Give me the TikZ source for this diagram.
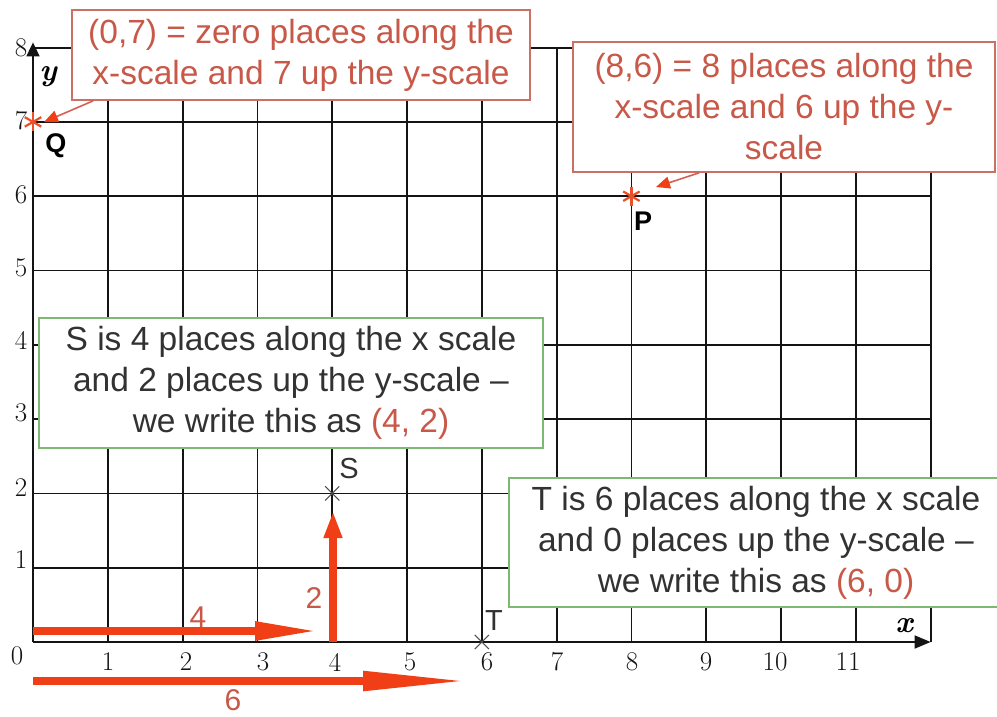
\documentclass[tikz,border=0pt]{standalone}
\usepackage{fontspec}
\newfontfamily\sansf{Liberation Sans}
\usetikzlibrary{arrows.meta}
\definecolor{arrowred}{RGB}{240,62,22}
\definecolor{labred}{RGB}{200,88,72}
\definecolor{boxred}{RGB}{205,112,100}
\definecolor{boxgreen}{RGB}{125,185,115}
\definecolor{boxtext}{RGB}{50,50,50}
\definecolor{astred}{RGB}{235,80,40}
\definecolor{callred}{RGB}{215,95,85}
\definecolor{gridc}{RGB}{20,20,20}
\definecolor{crossc}{RGB}{80,80,80}
\tikzset{
  gridline/.style={draw=gridc,line width=1.8pt},
  boxfont/.style={font=\sansf\fontsize{33.5}{41}\selectfont,align=center,inner sep=0pt},
  redbox/.style={boxfont,draw=boxred,fill=white,line width=1.6pt,text=labred},
  greenbox/.style={boxfont,draw=boxgreen,fill=white,line width=1.6pt,text=boxtext},
  ticklab/.style={font=\fontsize{27}{27}\selectfont,text=gridc,inner sep=0pt},
  axislab/.style={font=\fontsize{31}{31}\selectfont\bfseries\itshape,inner sep=0pt},
  ptlab/.style={font=\sansf\fontsize{29}{29}\selectfont,inner sep=0pt,text=boxtext},
  qplab/.style={font=\sansf\bfseries\fontsize{27}{27}\selectfont,inner sep=0pt},
  redlab/.style={font=\sansf\fontsize{30}{30}\selectfont,text=labred,inner sep=0pt},
  bigarrow/.style={draw=arrowred,line width=8.5pt},
  callout/.style={draw=callred,line width=1.6pt,-{Triangle[length=14pt,width=12pt,color=arrowred]}},
  redast/.pic={\foreach \a in {90,30,150}{\draw[astred,line width=2.2pt] (\a:9.5pt) -- (\a+180:9.5pt);}},
  greycross/.pic={\draw[crossc,line width=1.1pt] (45:10pt) -- (225:10pt) (135:10pt) -- (315:10pt);}
}
\begin{document}
\begin{tikzpicture}[x=1pt,y=-1pt]
\useasboundingbox (0,0) rectangle (997,716);
\fill[white] (0,0) rectangle (997,716);
% grid
\begin{scope}[shift={(33,642)},x=74.8pt,y=74.3pt]
  \foreach \i in {1,...,12} \draw[gridline] (\i,0) -- (\i,8);
  \foreach \j in {1,...,8} \draw[gridline] (0,\j) -- (12,\j);
  \draw[gridline,-{Triangle[length=14pt,width=13pt]}] (0,0) -- (0,8.07);
  \draw[gridline,-{Triangle[length=16pt,width=13pt]}] (0,0) -- (12,0);
  \coordinate (O) at (0,0);
  \coordinate (Q) at (0,7);
  \coordinate (P) at (8,6);
  \coordinate (S) at (4,2);
  \coordinate (T) at (6,0);
\end{scope}
% tick labels
\node[ticklab] (x0) at (17,656) {0};
\foreach \n/\px in {1/108,2/186,3/263,4/335,5/410,6/487,7/557,8/632,9/706,10/775,11/848}
  \node[ticklab] (xt\n) at (\px,662) {\n};
\foreach \n/\py in {1/560,2/488,3/413,4/340,5/268,6/195,7/121,8/48}
  \node[ticklab] (yt\n) at (21,\py) {\n};
\node[axislab] (ylab) at (48,77) {y};
\node[axislab] (xlab) at (904,626) {x};
% thick red arrows
\coordinate (a4s) at (33,631);
\coordinate (a4e) at (321,631);
\coordinate (a2s) at (333,642);
\coordinate (a2e) at (333,511);
\coordinate (a6s) at (33,681);
\coordinate (a6e) at (471,681);
\draw[bigarrow,-{Triangle[length=66pt,width=17pt]}] (a4s) -- (a4e);
\draw[bigarrow,-{Triangle[length=27pt,width=17pt]}] (a2s) -- (a2e);
\draw[bigarrow,-{Triangle[length=108pt,width=18pt]}] (a6s) -- (a6e);
\node[redlab] (l4) at (198,617) {4};
\node[redlab] (l2) at (314,598) {2};
\node[redlab] (l6) at (233,700) {6};
% markers
\pic at (Q) {redast};
\pic at (P) {redast};
\pic at (S) {greycross};
\pic at (T) {greycross};
\node[qplab] (Qlab) at (56,146) {Q};
\node[qplab] (Plab) at (643,221) {P};
\node[ptlab] (Slab) at (349,469) {S};
\node[ptlab] (Tlab) at (494,621) {T};
% boxes
\node[redbox,minimum width=458pt,minimum height=90pt] (box1) at (301,55)
  {(0,7) = zero places along the\\x-scale and 7 up the y-scale};
\node[redbox,minimum width=422pt,minimum height=130pt] (box2) at (784,107)
  {(8,6) = 8 places along the\\x-scale and 6 up the y-\\scale};
\node[greenbox,minimum width=504pt,minimum height=130pt] (box3) at (291,383)
  {S is 4 places along the x scale\\and 2 places up the y-scale –\\we write this as \textcolor{labred}{(4, 2)}};
\node[greenbox,minimum width=494pt,minimum height=129pt] (box4) at (756,542.5)
  {T is 6 places along the x scale\\and 0 places up the y-scale –\\we write this as \textcolor{labred}{(6, 0)}};
% callouts
\coordinate (Qtip) at (44,122);
\coordinate (Ptip) at (656,187);
\draw[callout] ([xshift=22pt]box1.south west) -- (Qtip);
\draw[callout] ([xshift=127pt]box2.south west) -- (Ptip);
\end{tikzpicture}
\end{document}
